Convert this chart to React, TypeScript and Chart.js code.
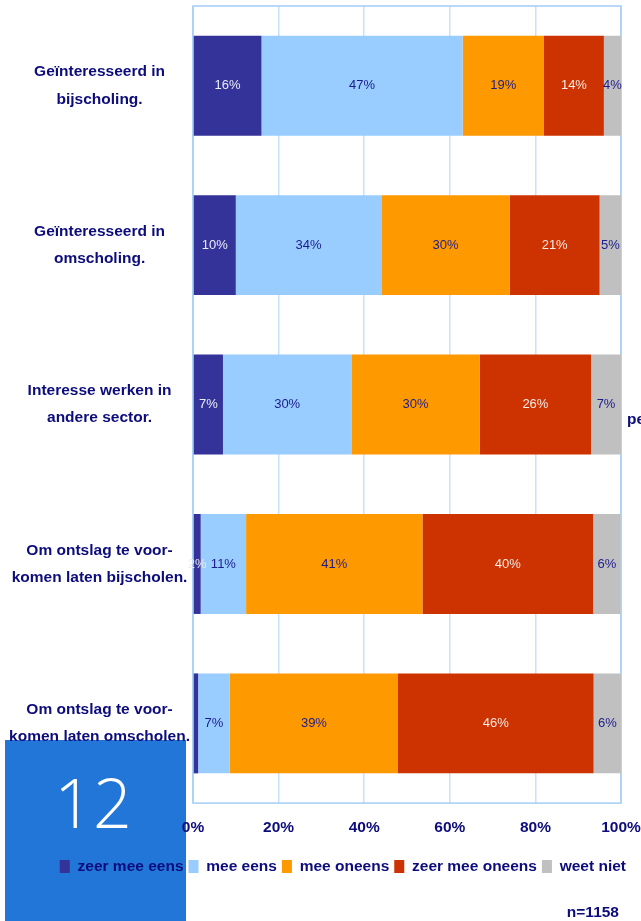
import React, { useEffect, useRef } from 'react';
import { Chart, registerables } from 'chart.js';

Chart.register(...registerables);

const categories: string[][] = [
  ['Geïnteresseerd in', 'bijscholing.'],
  ['Geïnteresseerd in', 'omscholing.'],
  ['Interesse werken in', 'andere sector.'],
  ['Om ontslag te voor-', 'komen laten bijscholen.'],
  ['Om ontslag te voor-', 'komen laten omscholen.'],
];

const seriesNames = ['zeer mee eens', 'mee eens', 'mee oneens', 'zeer mee oneens', 'weet niet'];

const zeerMeeEens = [16, 10, 7, 1.8, 1.2];
const meeEens = [47, 34, 30, 10.6, 7.4];
const meeOneens = [19, 30, 30, 41.2, 39.3];
const zeerMeeOneens = [14, 21, 26, 39.9, 45.7];
const weetNiet = [4, 5, 7, 6.4, 6.4];

const xTicks = [0, 20, 40, 60, 80, 100];

const seriesValues = [zeerMeeEens, meeEens, meeOneens, zeerMeeOneens, weetNiet];
const barColors = ['#333399', '#99ccff', '#ff9900', '#cc3300', '#c0c0c0'];
const labelColors = ['#ececf6', '#1c1c8c', '#1c1c8c', '#f6ece8', '#1c1c8c'];

const NAVY = '#0c0c7c';
const FONT = '"Liberation Sans", Arial, sans-serif';

const barLabelPlugin = {
  id: 'barLabels',
  afterDatasetsDraw(chart: any) {
    const ctx = chart.ctx;
    ctx.save();
    ctx.font = `13px ${FONT}`;
    ctx.textAlign = 'center';
    ctx.textBaseline = 'middle';
    chart.data.datasets.forEach((ds: any, di: number) => {
      const meta = chart.getDatasetMeta(di);
      meta.data.forEach((el: any, i: number) => {
        const v = ds.data[i];
        if (v < 1.5) return;
        const x = (el.x + el.base) / 2;
        ctx.fillStyle = labelColors[di];
        ctx.fillText(Math.round(v) + '%', x, el.y);
      });
    });
    ctx.restore();
  },
};

const borderPlugin = {
  id: 'plotBorder',
  beforeDatasetsDraw(chart: any) {
    const { ctx, chartArea } = chart;
    ctx.save();
    ctx.strokeStyle = '#a4cdf6';
    ctx.lineWidth = 1.5;
    ctx.strokeRect(chartArea.left, chartArea.top, chartArea.right - chartArea.left, chartArea.bottom - chartArea.top);
    ctx.restore();
  },
};

export default function App() {
  const canvasRef = useRef<HTMLCanvasElement | null>(null);

  useEffect(() => {
    if (!canvasRef.current) return;
    const chart = new Chart(canvasRef.current, {
      type: 'bar',
      data: {
        labels: categories,
        datasets: seriesNames.map((name, i) => ({
          label: name,
          data: seriesValues[i],
          backgroundColor: barColors[i],
          borderWidth: 0,
          barPercentage: 0.627,
          categoryPercentage: 1,
        })),
      },
      options: {
        indexAxis: 'y',
        responsive: false,
        animation: false,
        layout: { padding: { top: 6, right: 10, bottom: 36.7, left: 0 } },
        scales: {
          x: {
            stacked: true,
            min: 0,
            max: 100,
            afterBuildTicks(scale: any) {
              scale.ticks = xTicks.map((v) => ({ value: v }));
            },
            afterFit(scale: any) {
              scale.height = 50.7;
              scale.paddingLeft = 0;
              scale.paddingRight = 20;
            },
            grid: { color: '#c8e2fc', lineWidth: 1.5, drawTicks: false },
            border: { display: false },
            ticks: {
              padding: 15,
              color: NAVY,
              font: { family: FONT, size: 15.5, weight: 'bold' },
              callback: (v: any) => v + '%',
            },
          },
          y: {
            stacked: true,
            afterFit(scale: any) {
              scale.width = 193;
              scale.paddingTop = 0;
              scale.paddingBottom = 0;
            },
            grid: { display: false, drawTicks: false },
            border: { display: false },
            ticks: {
              padding: 3,
              crossAlign: 'center',
              color: NAVY,
              font: { family: FONT, size: 15.5, weight: 'bold', lineHeight: 1.75 },
            },
          },
        },
        plugins: {
          legend: {
            position: 'bottom',
            align: 'end',
            labels: {
              boxWidth: 10,
              boxHeight: 13,
              padding: 5,
              color: NAVY,
              font: { family: FONT, size: 15.5, weight: 'bold' },
            },
          },
          tooltip: { enabled: false },
        },
      },
      plugins: [borderPlugin, barLabelPlugin],
    } as any);
    return () => chart.destroy();
  }, []);

  return (
    <div
      style={{
        position: 'fixed',
        left: 0,
        top: 0,
        width: 641,
        height: 921,
        overflow: 'hidden',
        background: '#ffffff',
      }}
    >
      <div
        style={{
          position: 'absolute',
          left: 5,
          top: 740,
          width: 181,
          height: 181,
          background: '#2276d8',
        }}
      >
        <div
          style={{
            position: 'absolute',
            left: 0,
            width: 176,
            top: 22,
            textAlign: 'center',
            color: '#ffffff',
            fontFamily: '"Open Sans", "DejaVu Sans", sans-serif',
            fontWeight: 300,
            fontSize: 68,
            lineHeight: '80px',
          }}
        >
          12
        </div>
      </div>
      <canvas
        ref={canvasRef}
        width={641}
        height={921}
        style={{ position: 'absolute', left: 0, top: 0, width: 641, height: 921 }}
      />
      <div
        style={{
          position: 'absolute',
          left: 627,
          top: 410,
          whiteSpace: 'nowrap',
          color: NAVY,
          fontFamily: FONT,
          fontWeight: 'bold',
          fontSize: 15.5,
        }}
      >
        pe
      </div>
      <div
        style={{
          position: 'absolute',
          right: 22,
          top: 903,
          whiteSpace: 'nowrap',
          color: NAVY,
          fontFamily: FONT,
          fontWeight: 'bold',
          fontSize: 15.5,
          lineHeight: '18px',
        }}
      >
        n=1158
      </div>
    </div>
  );
}
